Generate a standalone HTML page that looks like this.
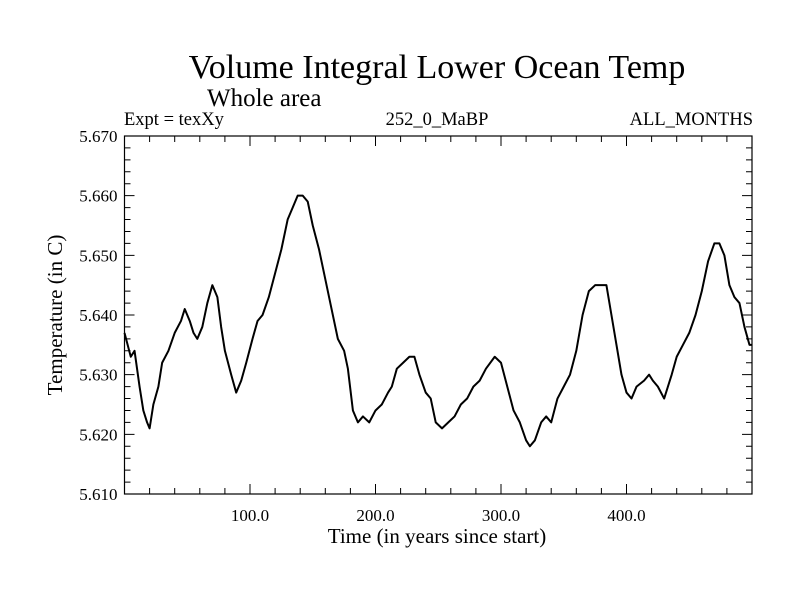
<!DOCTYPE html>
<html><head><meta charset="utf-8"><style>
body{margin:0;background:#fff}
svg text{font-family:"Liberation Serif",serif;fill:#000}
</style></head><body>
<svg id="c" width="800" height="600">
<text x="437" y="78" font-size="34" text-anchor="middle">Volume Integral Lower Ocean Temp</text>
<text x="207" y="106" font-size="25">Whole area</text>
<text x="124" y="125" font-size="18.5">Expt = texXy</text>
<text x="437" y="125" font-size="18.5" text-anchor="middle">252_0_MaBP</text>
<text x="753" y="125" font-size="18.5" text-anchor="end">ALL_MONTHS</text>
<text x="437" y="543" font-size="21" text-anchor="middle">Time (in years since start)</text>
<text transform="translate(62,315) rotate(-90)" font-size="21" text-anchor="middle">Temperature (in C)</text>
<g id="ax"></g>
</svg>
<script>
const years=[0,5,8,12,15,18,20,23,27,30,35,40,45,48,52,55,58,62,66,70,74,77,80,85,89,93,97,102,106,110,115,120,125,130,134,138,142,146,150,155,160,165,170,175,178,182,186,190,195,200,205,210,213,217,222,227,231,235,240,244,248,253,258,263,268,273,278,283,288,295,300,305,310,315,320,323,327,332,336,340,345,350,355,360,365,370,375,380,384,388,392,396,400,404,408,414,418,421,425,430,436,440,445,450,455,460,465,470,474,478,482,486,490,494,498,500];
const temps=[5.637,5.633,5.634,5.628,5.624,5.622,5.621,5.625,5.628,5.632,5.634,5.637,5.639,5.641,5.639,5.637,5.636,5.638,5.642,5.645,5.643,5.638,5.634,5.630,5.627,5.629,5.632,5.636,5.639,5.640,5.643,5.647,5.651,5.656,5.658,5.660,5.660,5.659,5.655,5.651,5.646,5.641,5.636,5.634,5.631,5.624,5.622,5.623,5.622,5.624,5.625,5.627,5.628,5.631,5.632,5.633,5.633,5.630,5.627,5.626,5.622,5.621,5.622,5.623,5.625,5.626,5.628,5.629,5.631,5.633,5.632,5.628,5.624,5.622,5.619,5.618,5.619,5.622,5.623,5.622,5.626,5.628,5.630,5.634,5.640,5.644,5.645,5.645,5.645,5.640,5.635,5.630,5.627,5.626,5.628,5.629,5.630,5.629,5.628,5.626,5.630,5.633,5.635,5.637,5.640,5.644,5.649,5.652,5.652,5.650,5.645,5.643,5.642,5.638,5.635,5.635];
const xTicks=[100,200,300,400];
const xTickLabels=["100.0","200.0","300.0","400.0"];
const yTicks=[5.61,5.62,5.63,5.64,5.65,5.66,5.67];
const yTickLabels=["5.610","5.620","5.630","5.640","5.650","5.660","5.670"];
const L=124.5,R=752,T=136,B=494,x0=0,x1=500,y0=5.61,y1=5.67;
const X=v=>L+(v-x0)/(x1-x0)*(R-L);
const Y=v=>B-(v-y0)/(y1-y0)*(B-T);
const NS="http://www.w3.org/2000/svg",g=document.getElementById('ax');
function mk(t,a){const e=document.createElementNS(NS,t);for(const k in a)e.setAttribute(k,a[k]);g.appendChild(e);return e;}
const fr=mk('rect',{x:L,y:T,width:R-L,height:B-T,fill:'none',stroke:'#000','stroke-width':1.2});


let d='';
for(let v=20;v<500;v+=20){const maj=v%100===0,l=maj?10:6,x=X(v);d+=`M${x},${B}V${B-l}M${x},${T}V${T+l}`;}
for(let i=1;i<30;i++){const v=y0+i*0.002,maj=i%5===0,l=maj?10:6,y=Y(v);d+=`M${L},${y}H${L+l}M${R},${y}H${R-l}`;}
const tk=mk('path',{d:d,stroke:'#000','stroke-width':1,fill:'none'});


xTicks.forEach((v,i)=>{const t=mk('text',{x:X(v),y:B+27,'font-size':17,'text-anchor':'middle'});t.textContent=xTickLabels[i];

});
yTicks.forEach((v,i)=>{const t=mk('text',{x:L-7,y:Y(v)+6,'font-size':17,'text-anchor':'end'});t.textContent=yTickLabels[i];

});
const ln=mk('polyline',{points:years.map((v,i)=>X(v)+','+Y(temps[i])).join(' '),fill:'none',stroke:'#000','stroke-width':2,'stroke-linejoin':'round'});


</script>
</body></html>
